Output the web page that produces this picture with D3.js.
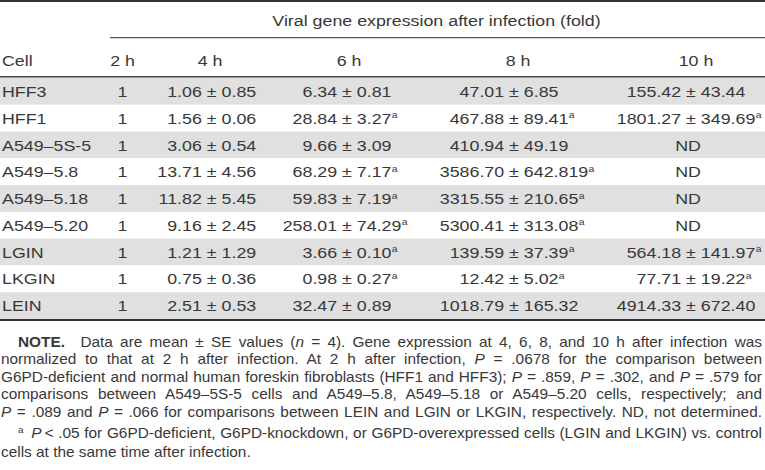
<!DOCTYPE html>
<html><head><meta charset="utf-8">
<script src="https://cdn.jsdelivr.net/npm/d3@7"></script>
<style>
body{margin:0;background:#fff}
svg{display:block}
text{font-family:"Liberation Sans",Arial,Helvetica,sans-serif;fill:#383838}
</style>
</head><body>
<svg id="c" width="765" height="470"></svg>
<script>
// ---------------- data ----------------
const spanTitle = "Viral gene expression after infection (fold)";
const stubHead = "Cell";
const timeLabels = ["2 h", "4 h", "6 h", "8 h", "10 h"];
const cells = ["HFF3", "HFF1", "A549\u20135S-5", "A549\u20135.8", "A549\u20135.18", "A549\u20135.20", "LGIN", "LKGIN", "LEIN"];
const fold2h = ["1", "1", "1", "1", "1", "1", "1", "1", "1"];
const mean4h = ["1.06", "1.56", "3.06", "13.71", "11.82", "9.16", "1.21", "0.75", "2.51"];
const se4h   = ["0.85", "0.06", "0.54", "4.56", "5.45", "2.45", "1.29", "0.36", "0.53"];
const sig4h  = [0, 0, 0, 0, 0, 0, 0, 0, 0];
const mean6h = ["6.34", "28.84", "9.66", "68.29", "59.83", "258.01", "3.66", "0.98", "32.47"];
const se6h   = ["0.81", "3.27", "3.09", "7.17", "7.19", "74.29", "0.10", "0.27", "0.89"];
const sig6h  = [0, 1, 0, 1, 1, 1, 1, 1, 0];
const mean8h = ["47.01", "467.88", "410.94", "3586.70", "3315.55", "5300.41", "139.59", "12.42", "1018.79"];
const se8h   = ["6.85", "89.41", "49.19", "642.819", "210.65", "313.08", "37.39", "5.02", "165.32"];
const sig8h  = [0, 1, 0, 1, 1, 1, 1, 1, 0];
const mean10h = ["155.42", "1801.27", "ND", "ND", "ND", "ND", "564.18", "77.71", "4914.33"];
const se10h   = ["43.44", "349.69", null, null, null, null, "141.97", "19.22", "672.40"];
const sig10h  = [0, 1, 0, 0, 0, 0, 1, 1, 0];
const supMark = "a";

// note lines: segments [text, style]  (style: n normal, i italic, b bold, s superscript)
const noteLines = [
  [["NOTE.", "b"], ["\u2003Data are mean \u00b1 SE values (", "n"], ["n", "i"], [" = 4). Gene expression at 4, 6, 8, and 10 h after infection was", "n"]],
  [["normalized to that at 2 h after infection. At 2 h after infection, ", "n"], ["P", "i"], [" = .0678 for the comparison between", "n"]],
  [["G6PD-deficient and normal human foreskin fibroblasts (HFF1 and HFF3); ", "n"], ["P", "i"], [" = .859, ", "n"], ["P", "i"], [" = .302, and ", "n"], ["P", "i"], [" = .579 for", "n"]],
  [["comparisons between A549\u20135S-5 cells and A549\u20135.8, A549\u20135.18 or A549\u20135.20 cells, respectively; and", "n"]],
  [["P", "i"], [" = .089 and ", "n"], ["P", "i"], [" = .066 for comparisons between LEIN and LGIN or LKGIN, respectively. ND, not determined.", "n"]],
  [["a", "s"], ["\u2002", "r"], ["P", "i"], ["\u2009< .05 for G6PD-deficient, G6PD-knockdown, or G6PD-overexpressed cells (LGIN and LKGIN) vs. control", "n"]],
  [["cells at the same time after infection.", "n"]]
];
const noteIndent = [1, 0, 0, 0, 0, 1, 0];
const noteJustify = [1, 1, 1, 1, 1, 1, 0];

// ---------------- layout ----------------
const W = 765, H = 470;
const SX = 1.15;      // horizontal stretch of table glyphs
const NSX = 1.10;     // horizontal stretch of note glyphs
const FS = 15.5;      // table font size
const NFS = 14;       // note font size
const svg = d3.select("#c");

const means = [null, mean4h, mean6h, mean8h, mean10h];
const ses = [null, se4h, se6h, se8h, se10h];
const sigs = [null, sig4h, sig6h, sig8h, sig10h];

const y = d3.scaleBand().domain(cells).range([78, 319]).padding(0);
const xHead = d3.scaleOrdinal().domain(timeLabels).range([122.5, 210, 349, 518, 696]);
const xPm = d3.scaleOrdinal().domain(timeLabels).range([122.5, 211.7, 347, 514, 691]);
const xND = 688;

function stext(x, yy, str, anchor, size) {
  return svg.append("g").attr("transform", `translate(${x},${yy}) scale(${SX},1)`)
    .append("text").attr("text-anchor", anchor || "start")
    .attr("font-size", size || FS).text(str);
}

// row bands
svg.append("g").selectAll("rect").data(cells).join("rect")
  .attr("x", 0).attr("width", W)
  .attr("y", d => y(d)).attr("height", y.bandwidth())
  .attr("fill", (d, i) => i % 2 === 0 ? "#e0e0e0" : "#ffffff");

// rules
svg.append("rect").attr("x", 0).attr("y", 0).attr("width", W).attr("height", 2).attr("fill", "#333");
svg.append("line").attr("x1", 110).attr("x2", W).attr("y1", 37.7).attr("y2", 37.7)
  .attr("stroke", "#555").attr("stroke-width", 1.3);
svg.append("line").attr("x1", 0).attr("x2", W).attr("y1", 76.8).attr("y2", 76.8)
  .attr("stroke", "#444").attr("stroke-width", 1.6);
svg.append("line").attr("x1", 0).attr("x2", W).attr("y1", 320).attr("y2", 320)
  .attr("stroke", "#333").attr("stroke-width", 2);

// headers
stext(436.5, 26, spanTitle, "middle");
stext(2, 66, stubHead, "start");
timeLabels.forEach(t => stext(xHead(t), 66, t, "middle"));

// body
const base = d => y(d) + y.bandwidth() / 2 + 5.6;
cells.forEach((c, i) => {
  const by = base(c);
  stext(2, by, c, "start");
  stext(xPm(timeLabels[0]), by, fold2h[i], "middle");
  for (let k = 1; k < timeLabels.length; k++) {
    const m = means[k][i], s = ses[k][i];
    if (s === null) { stext(xND, by, m, "middle"); continue; }
    const g = svg.append("g").attr("transform", `translate(${xPm(timeLabels[k])},${by}) scale(${SX},1)`);
    const t = g.append("text").attr("font-size", FS).attr("x", 0).style("white-space", "pre");
    t.append("tspan").text(m + " \u00b1 " + s);
    if (sigs[k][i]) t.append("tspan").attr("font-size", 9).attr("dx", 0.3).attr("dy", -5.5).text(supMark);
    const ext = t.node().getExtentOfChar(m.length + 1);
    const cx = ext.x + ext.width / 2;
    t.attr("x", -cx);
  }
});

// notes
const noteY = [346.7, 364.3, 381.9, 399.4, 417, 438, 457];
noteLines.forEach((segs, li) => {
  const x0 = noteIndent[li] ? 18 : 1;
  const g = svg.append("g").attr("transform", `translate(${x0},${noteY[li]}) scale(${NSX},1)`);
  const t = g.append("text").attr("font-size", NFS).style("white-space", "pre");
  segs.forEach(([str, st]) => {
    const sp = t.append("tspan").text(str);
    if (st === "i") sp.attr("font-style", "italic");
    if (st === "b") sp.attr("font-weight", "bold");
    if (st === "s") sp.attr("font-size", 9).attr("dy", -5);
    if (st === "r") sp.attr("dy", 5);
  });
  if (noteJustify[li]) {
    const full = segs.map(s => s[0]).join("");
    const nsp = (full.match(/ /g) || []).length;
    const nat = t.node().getComputedTextLength();
    const target = (762 - x0) / NSX;
    if (nsp > 0) t.style("word-spacing", ((target - nat) / nsp) + "px");
  }
});
</script>
</body></html>
